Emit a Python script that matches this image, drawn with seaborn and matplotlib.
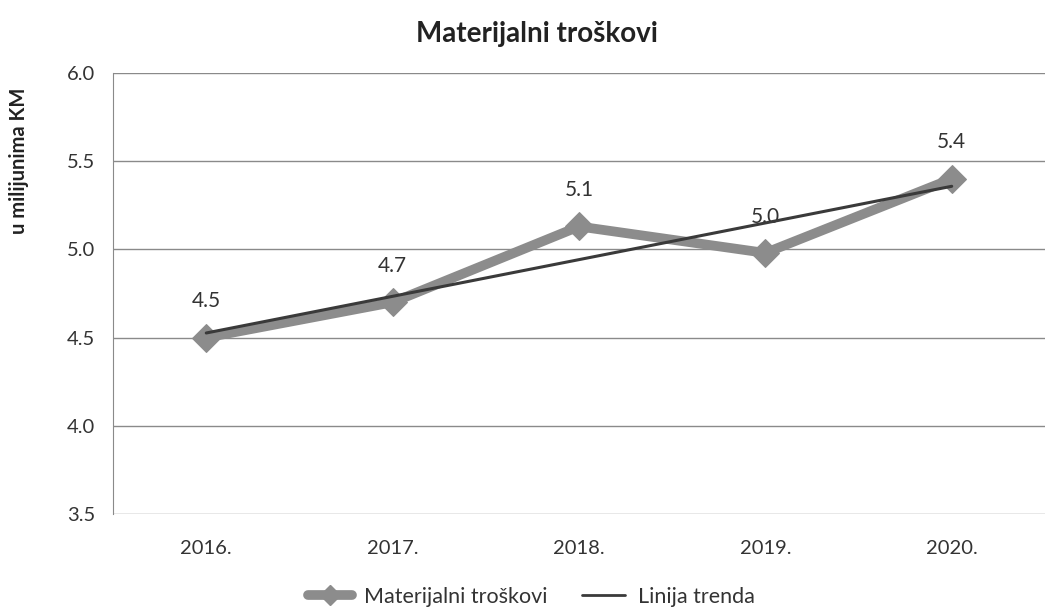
import matplotlib
matplotlib.use("Agg")
import matplotlib.pyplot as plt
import numpy as np
import pandas as pd
import seaborn as sns
from matplotlib.lines import Line2D

years = ["2016.", "2017.", "2018.", "2019.", "2020."]
costs = [4.50, 4.70, 5.13, 4.98, 5.40]
labels = ["4.5", "4.7", "5.1", "5.0", "5.4"]

df = pd.DataFrame({"x": range(len(years)), "cost": costs})

# linear trend like excel
slope, intercept = np.polyfit(df["x"], df["cost"], 1)
df["trend"] = intercept + slope * df["x"]

sns.set_style("white")
plt.rcParams["font.family"] = ["Lato", "DejaVu Sans"]

fig, ax = plt.subplots(figsize=(10.47, 6.14), dpi=100)
fig.subplots_adjust(left=0.108, right=0.998, top=0.881, bottom=0.163)

ser_color = "#8c8c8c"
trend_color = "#3a3a3a"

sns.lineplot(data=df, x="x", y="cost", ax=ax, color=ser_color, linewidth=7,
             marker="D", markersize=14, markeredgecolor=ser_color, zorder=3)
sns.lineplot(data=df, x="x", y="trend", ax=ax, color=trend_color, linewidth=2.2, zorder=4)

for xi, yi, lab in zip(df["x"], df["cost"], labels):
    ax.annotate(lab, (xi, yi), xytext=(0, 19), textcoords="offset points",
                ha="center", va="bottom", fontsize=15, color="#333333")

ax.set_xlim(-0.5, 4.5)
ax.set_ylim(3.5, 6.0)
ax.set_yticks([3.5, 4.0, 4.5, 5.0, 5.5, 6.0])
ax.set_yticklabels([f"{v:.1f}" for v in [3.5, 4.0, 4.5, 5.0, 5.5, 6.0]])
ax.set_xticks(range(len(years)))
ax.set_xticklabels(years)
ax.tick_params(axis="both", labelsize=14.5, colors="#333333")
ax.tick_params(axis="y", length=7, color="#8a8a8a", width=1, pad=6)
ax.tick_params(axis="x", length=0, pad=19)

ax.grid(axis="y", color="#8a8a8a", linewidth=1)
ax.set_axisbelow(True)
for s in ["top", "right", "bottom"]:
    ax.spines[s].set_visible(False)
ax.spines["left"].set_color("#8a8a8a")

ax.set_xlabel("")
ax.set_ylabel("u milijunima KM", fontsize=14.5, fontweight="bold", color="#222222")
ax.yaxis.set_label_coords(-0.09, 0.80)

fig.text(0.513, 0.945, "Materijalni troškovi", ha="center", va="center",
         fontsize=20, fontweight="bold", color="#222222")

handles = [
    Line2D([], [], color=ser_color, linewidth=7, marker="D", markersize=10, markeredgecolor=ser_color),
    Line2D([], [], color=trend_color, linewidth=2),
]
fig.legend(handles, ["Materijalni troškovi", "Linija trenda"], loc="lower center",
           bbox_to_anchor=(0.508, -0.02), ncol=2, frameon=False, fontsize=15.5,
           handlelength=2.0, handletextpad=0.6, columnspacing=1.6, labelcolor="#333333")

fig.savefig("out.png", dpi=100)
